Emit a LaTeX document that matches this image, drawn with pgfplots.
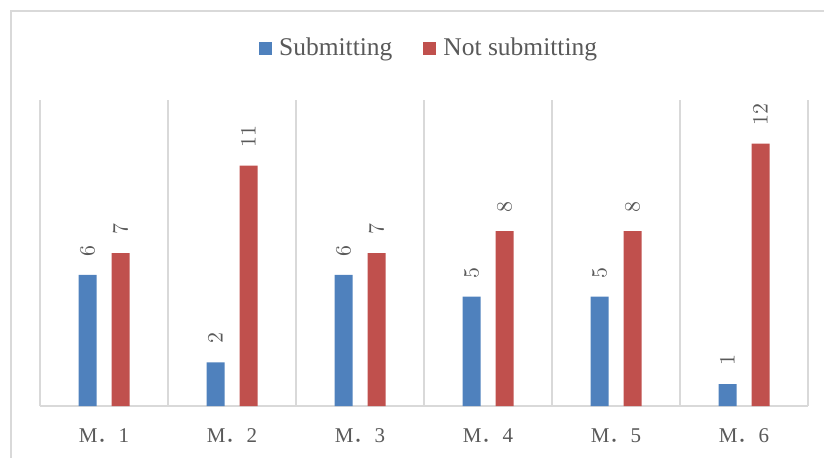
\documentclass[border=0pt]{standalone}
\usepackage{pgfplots}
\pgfplotsset{compat=1.18}
\usepackage{fontspec}
\setmainfont{Liberation Serif}
\newfontfamily\cjk{Noto Sans CJK SC}
\definecolor{subblue}{HTML}{4F81BD}
\definecolor{notred}{HTML}{C0504D}
\definecolor{gridgray}{HTML}{D9D9D9}
\definecolor{txtgray}{HTML}{595959}
\begin{document}
\begin{tikzpicture}
\useasboundingbox (0pt,0pt) rectangle (412pt,228.5pt);
% chart frame (cropped on right and bottom)
\draw[gridgray, line width=0.75pt] (5.5pt,-5pt) -- (5.5pt,223pt) -- (420pt,223pt);
\begin{axis}[
  at={(20pt,25.5pt)}, anchor=south west,
  scale only axis, width=384pt, height=153pt,
  ybar=7.5pt, bar width=9pt,
  xmin=-0.5, xmax=5.5, ymin=0, ymax=14,
  axis x line*=bottom, axis y line=none,
  x axis line style={-, gridgray, line width=0.75pt},
  xtick={0,...,5},
  xticklabels={M{\cjk ．}1, M{\cjk ．}2, M{\cjk ．}3, M{\cjk ．}4, M{\cjk ．}5, M{\cjk ．}6},
  xticklabel style={anchor=base, yshift=-18pt, font=\fontsize{10.5}{12}\selectfont, text=txtgray},
  major tick length=0pt, minor tick length=0pt,
  minor xtick={-0.5,0.5,...,5.5},
  xminorgrids, minor grid style={gridgray, line width=0.75pt},
  ytick=\empty,
  nodes near coords,
  every node near coord/.append style={anchor=west, rotate=90, inner xsep=9pt, inner ysep=0pt,
    font=\fontsize{10.5}{12}\selectfont, text=txtgray},
  legend style={at={(0.508,1.168)}, anchor=center, draw=none, fill=none,
    legend columns=-1, font=\fontsize{12.75}{15}\selectfont, text=txtgray,
    /tikz/every even column/.append style={column sep=13.5pt}},
  legend image code/.code={\fill[#1] (0pt,-3.25pt) rectangle (6.5pt,3.25pt); \path (8pt,0pt);},
]
\addplot[fill=subblue, draw=none] coordinates {(0,6) (1,2) (2,6) (3,5) (4,5) (5,1)};
\addplot[fill=notred, draw=none] coordinates {(0,7) (1,11) (2,7) (3,8) (4,8) (5,12)};
\legend{Submitting, Not submitting}
\end{axis}
\end{tikzpicture}
\end{document}
